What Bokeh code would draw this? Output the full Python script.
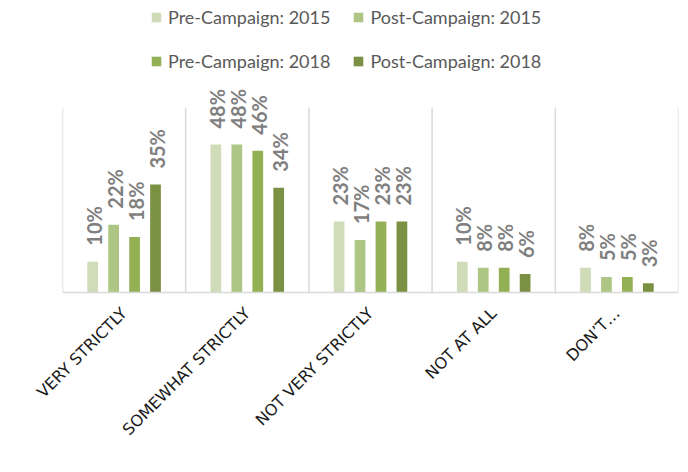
import numpy as np
from math import pi
from bokeh.plotting import figure
from bokeh.models import (ColumnDataSource, FixedTicker, Range1d, Legend,
                          LegendItem)
from bokeh.core.properties import value
from bokeh.embed import file_html
from bokeh.resources import INLINE

categories = ["VERY STRICTLY", "SOMEWHAT STRICTLY", "NOT VERY STRICTLY",
              "NOT AT ALL", "DON\u2019T\u2026"]
series = ["Pre-Campaign: 2015", "Post-Campaign: 2015",
          "Pre-Campaign: 2018", "Post-Campaign: 2018"]
pre_2015 = [10, 48, 23, 10, 8]
post_2015 = [22, 48, 17, 8, 5]
pre_2018 = [18, 46, 23, 8, 5]
post_2018 = [35, 34, 23, 6, 3]
values = [pre_2015, post_2015, pre_2018, post_2018]
y_max = 60  # value-axis maximum of the chart

colors = ["#CFDCB7", "#ADC585", "#93B054", "#7A9143"]
offsets = [-0.255, -0.085, 0.085, 0.255]

W, H = 680, 464
left, right, bottom = 62, 2, 172
frame_h = H - bottom            # frame extends to top of canvas
plot_h = 185                    # pixel height of the 0..y_max region
y_top = y_max * frame_h / plot_h

xs = np.arange(len(categories)) + 0.5
bounds = np.arange(len(categories) + 1)

p = figure(width=W, height=H, output_backend="svg", toolbar_location=None,
           x_range=Range1d(0, len(categories)), y_range=Range1d(0, y_top),
           min_border_left=left, min_border_right=right, min_border_top=0,
           min_border_bottom=bottom)
p.outline_line_color = None
p.grid.grid_line_color = None
p.yaxis.visible = False

# category separators (vertical gridlines up to the axis maximum)
p.segment(x0=bounds, y0=0, x1=bounds, y1=y_max, line_color="#D9D9D9",
          line_width=1.5)

renderers = {}
for name, vals, col, off in zip(series, values, colors, offsets):
    src = ColumnDataSource(dict(x=xs + off, top=vals,
                                lab=[f"{v}%" for v in vals]))
    r = p.vbar(x="x", top="top", width=0.087, source=src, fill_color=col,
               line_color=None)
    renderers[name] = r
    p.text(x="x", y="top", text="lab", source=src, angle=pi / 2,
           text_align="left", text_baseline="middle", x_offset=1,
           y_offset=-16, text_font=value("Lato"), text_font_style="bold",
           text_font_size="20px", text_color="#7F7F7F")

ax = p.xaxis[0]
ax.ticker = FixedTicker(ticks=[float(x) for x in xs])
ax.major_label_overrides = {float(x): c for x, c in zip(xs, categories)}
ax.major_label_orientation = pi / 4
ax.major_label_standoff = 12
ax.major_tick_line_color = None
ax.minor_tick_line_color = None
ax.axis_line_color = "#D9D9D9"
ax.axis_line_width = 1.5
ax.major_label_text_font = "DejaVu Sans"
ax.major_label_text_font_size = "16px"
ax.major_label_text_color = "#1A1A1A"

# legend fills column-wise: order items so rows read left to right
order = [series[0], series[2], series[1], series[3]]
items = [LegendItem(label=n, renderers=[renderers[n]]) for n in order]
legend = Legend(items=items, location=(88, frame_h - 72), ncols=2,
                background_fill_alpha=0, border_line_color=None,
                padding=0, margin=0, spacing=22, label_standoff=6,
                glyph_width=12, glyph_height=12, label_height=20,
                label_text_font="Lato", label_text_font_size="18px",
                label_text_color="#595959")
p.add_layout(legend)

open("out.html", "w").write(file_html(p, INLINE))
